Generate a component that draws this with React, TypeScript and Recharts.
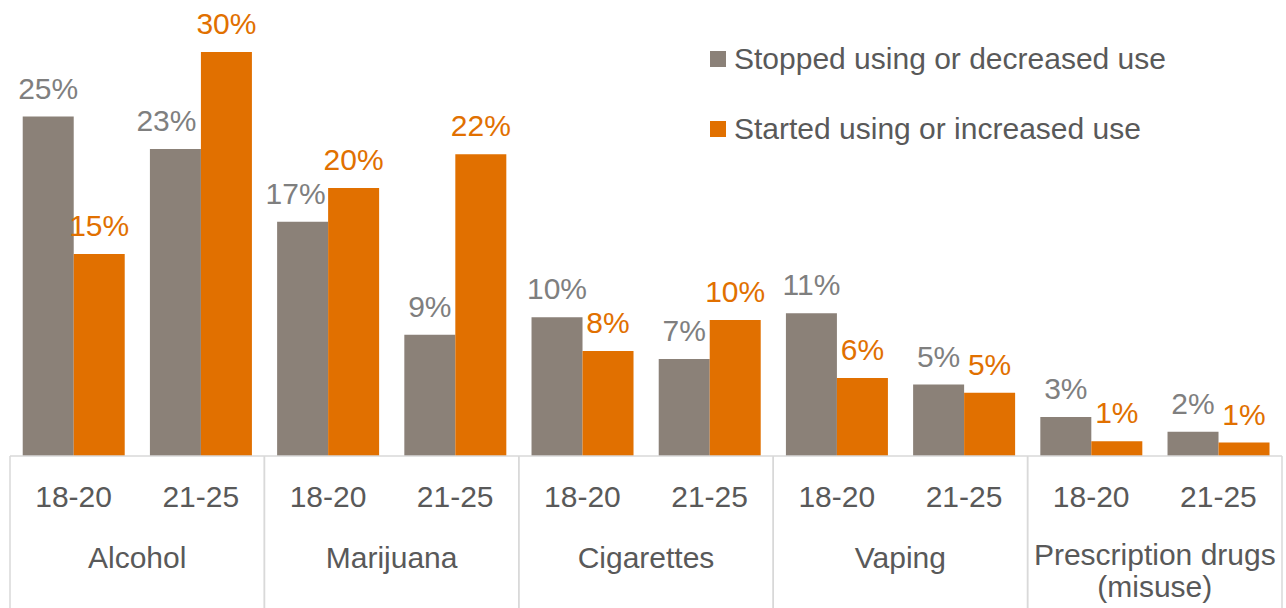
import { BarChart, Bar, XAxis, YAxis, Legend, LabelList } from 'recharts';

const CATEGORIES = ['Alcohol', 'Marijuana', 'Cigarettes', 'Vaping', 'Prescription drugs (misuse)'];
const AGE_GROUPS = ['18-20', '21-25'];
const STOPPED = [25.2, 22.8, 17.4, 9.0, 10.3, 7.2, 10.6, 5.3, 2.9, 1.8];
const STARTED = [15.0, 30.0, 19.9, 22.4, 7.8, 10.1, 5.8, 4.7, 1.1, 1.0];
const SERIES = ['Stopped using or decreased use', 'Started using or increased use'];

const GRAY = '#8b8178';
const ORANGE = '#e17000';
const TEXT = '#595959';
const LABEL_GRAY = '#7f7f7f';
const GRID = '#d9d9d9';
const FONT = '"Liberation Sans", Arial, sans-serif';

const AGE_AXIS_H = 60;
const CAT_AXIS_H = 92;

// small nudges so neighbouring labels don't collide (same as the source)
const STOPPED_DX = [0, -9, -7, 0, 0, 0, 0, 0, 0, 0];

const data = CATEGORIES.flatMap((category, ci) =>
  AGE_GROUPS.map((age, ai) => ({
    category,
    age,
    stopped: STOPPED[ci * 2 + ai],
    started: STARTED[ci * 2 + ai],
  }))
);

const AgeTick = ({ x, y, payload }: any) => (
  <text x={x} y={y + 51} textAnchor="middle" fill={TEXT} fontSize={30} fontFamily={FONT}>
    {payload.value}
  </text>
);

const CategoryTick = ({ x, y, payload }: any) => {
  const half = 1272 / CATEGORIES.length / 2;
  const parts = String(payload.value).split(' (');
  const lines = parts.length > 1 ? [parts[0], '(' + parts[1]] : parts;
  const top = lines.length > 1 ? y + 49 : y + 52;
  return (
    <g>
      <line x1={x - half} x2={x - half} y1={y - AGE_AXIS_H} y2={y + CAT_AXIS_H} stroke={GRID} strokeWidth={1.5} />
      <line x1={x + half} x2={x + half} y1={y - AGE_AXIS_H} y2={y + CAT_AXIS_H} stroke={GRID} strokeWidth={1.5} />
      <text textAnchor="middle" fill={TEXT} fontSize={30} fontFamily={FONT}>
        {lines.map((l, i) => (
          <tspan key={i} x={x} y={top + i * 32}>
            {l}
          </tspan>
        ))}
      </text>
    </g>
  );
};

const makeLabel = (color: string, nudges?: number[]) => (props: any) => {
  const vb = props.viewBox || {};
  const x = props.x ?? vb.x;
  const y = props.y ?? vb.y;
  const width = props.width ?? vb.width;
  const dx = nudges ? nudges[props.index] || 0 : 0;
  return (
    <text x={x + width / 2 + dx} y={y - 18} textAnchor="middle" fill={color} fontSize={30} fontFamily={FONT}>
      {Math.round(Number(props.value))}%
    </text>
  );
};

const renderLegend = () => (
  <div style={{ fontFamily: FONT, fontSize: 30, color: TEXT }}>
    {SERIES.map((name, i) => (
      <div key={name} style={{ display: 'flex', alignItems: 'center', height: 70 }}>
        <span style={{ width: 16, height: 16, background: i === 0 ? GRAY : ORANGE, marginRight: 8 }} />
        <span style={{ whiteSpace: 'nowrap' }}>{name}</span>
      </div>
    ))}
  </div>
);

export default function App() {
  return (
    <div style={{ position: 'absolute', left: 0, top: 0, background: '#fff' }}>
      <BarChart
        width={1286}
        height={608}
        data={data}
        margin={{ top: 25, right: 4, bottom: 0, left: 10 }}
        barCategoryGap="10%"
        barGap={0}
        style={{ fontFamily: FONT }}
      >
        <XAxis
          xAxisId="age"
          dataKey="age"
          height={AGE_AXIS_H}
          tickLine={false}
          tickSize={0}
          tickMargin={0}
          interval={0}
          axisLine={{ stroke: GRID, strokeWidth: 1.5 }}
          tick={<AgeTick />}
        />
        <XAxis
          xAxisId="cat"
          dataKey="category"
          allowDuplicatedCategory={false}
          height={CAT_AXIS_H}
          tickLine={false}
          tickSize={0}
          tickMargin={0}
          interval={0}
          axisLine={false}
          tick={<CategoryTick />}
        />
        <YAxis hide domain={[0, 32]} />
        <Legend
          layout="vertical"
          align="center"
          verticalAlign="middle"
          content={renderLegend}
          wrapperStyle={{ left: 710, top: 24, width: 560 }}
        />
        <Bar dataKey="stopped" name={SERIES[0]} xAxisId="age" fill={GRAY} isAnimationActive={false}>
          <LabelList dataKey="stopped" content={makeLabel(LABEL_GRAY, STOPPED_DX)} />
        </Bar>
        <Bar dataKey="started" name={SERIES[1]} xAxisId="age" fill={ORANGE} isAnimationActive={false}>
          <LabelList dataKey="started" content={makeLabel(ORANGE)} />
        </Bar>
      </BarChart>
    </div>
  );
}
